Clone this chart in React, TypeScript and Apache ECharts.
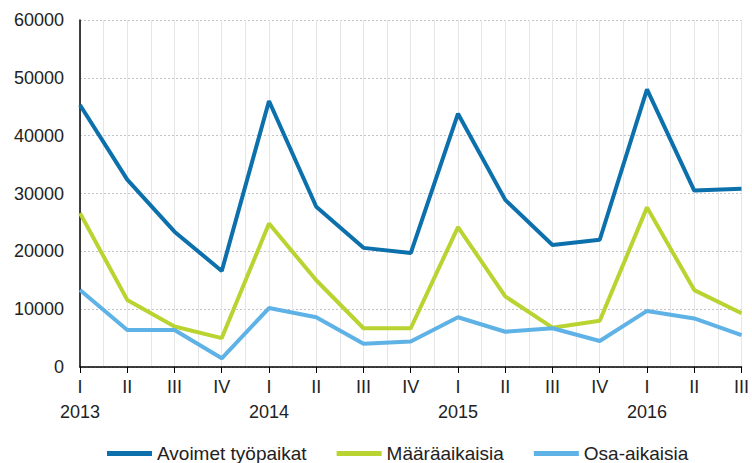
import React, { useEffect, useRef } from "react";
import * as echarts from "echarts";

const quarters = ["I", "II", "III", "IV", "I", "II", "III", "IV", "I", "II", "III", "IV", "I", "II", "III"];
const years = ["2013", "", "", "", "2014", "", "", "", "2015", "", "", "", "2016", "", ""];
const seriesNames = ["Avoimet työpaikat", "Määräaikaisia", "Osa-aikaisia"];
const avoimet = [45300, 32400, 23400, 16600, 46000, 27700, 20600, 19700, 43800, 28900, 21100, 22000, 48000, 30500, 30800];
const maaraaikaisia = [26600, 11600, 7000, 5000, 24800, 15000, 6700, 6700, 24200, 12200, 6800, 8000, 27600, 13300, 9300];
const osaaikaisia = [13300, 6400, 6400, 1500, 10200, 8600, 4000, 4400, 8600, 6100, 6700, 4500, 9700, 8400, 5500];
const yTicks = [0, 10000, 20000, 30000, 40000, 50000, 60000];
const colors = ["#0b70ab", "#b9d431", "#5fb2e6"];

export default function App() {
  const ref = useRef<HTMLDivElement>(null);
  useEffect(() => {
    if (!ref.current) return;
    const chart = echarts.init(ref.current, null, { renderer: "svg" });
    const toPairs = (arr: number[]) => arr.map((v, i) => [i, v]);
    const font = "'Liberation Sans', Arial, sans-serif";
    chart.setOption({
      animation: false,
      grid: { left: 80, right: 2, top: 20, bottom: 96, containLabel: false },
      xAxis: {
        type: "value",
        min: 0,
        max: quarters.length - 1,
        interval: 1,
        axisLine: { show: true, onZero: false, lineStyle: { color: "#000", width: 1.5 } },
        axisTick: { show: true, length: 6, lineStyle: { color: "#000" } },
        axisLabel: {
          color: "#222",
          fontSize: 18,
          fontFamily: font,
          lineHeight: 25,
          margin: 7,
          showMaxLabel: true,
          showMinLabel: true,
          formatter: (v: number) => {
            const i = Math.round(v);
            if (Math.abs(v - i) > 1e-6 || i < 0 || i >= quarters.length) return "";
            return years[i] ? quarters[i] + "\n" + years[i] : quarters[i];
          },
        },
        splitLine: { show: true, lineStyle: { color: "#e6e6e6", width: 1 } },
        minorTick: { show: false, splitNumber: 2 },
        minorSplitLine: { show: true, lineStyle: { color: "#e6e6e6", width: 1 } },
      },
      yAxis: {
        type: "value",
        min: yTicks[0],
        max: yTicks[yTicks.length - 1],
        interval: yTicks[1] - yTicks[0],
        axisLine: { show: true, lineStyle: { color: "#000", width: 1.5 } },
        axisTick: { show: false },
        axisLabel: {
          color: "#222",
          fontSize: 18,
          fontFamily: font,
          margin: 16,
          formatter: (v: number) => String(v),
        },
        splitLine: { show: true, lineStyle: { color: "#c8c0c8", type: [2, 2], width: 1 } },
      },
      legend: {
        top: 439,
        left: 102,
        itemWidth: 45,
        itemHeight: 5,
        itemGap: 30,
        textStyle: { color: "#222", fontSize: 19, fontFamily: font },
        data: seriesNames.map((n) => ({ name: n, icon: "rect" })),
      },
      series: [avoimet, maaraaikaisia, osaaikaisia].map((arr, k) => ({
        name: seriesNames[k],
        type: "line",
        data: toPairs(arr),
        symbol: "none",
        color: colors[k],
        lineStyle: { width: 4, color: colors[k] },
      })),
    });
    return () => chart.dispose();
  }, []);
  return <div ref={ref} style={{ width: 752, height: 463, position: "absolute", left: 0, top: 0 }} />;
}
